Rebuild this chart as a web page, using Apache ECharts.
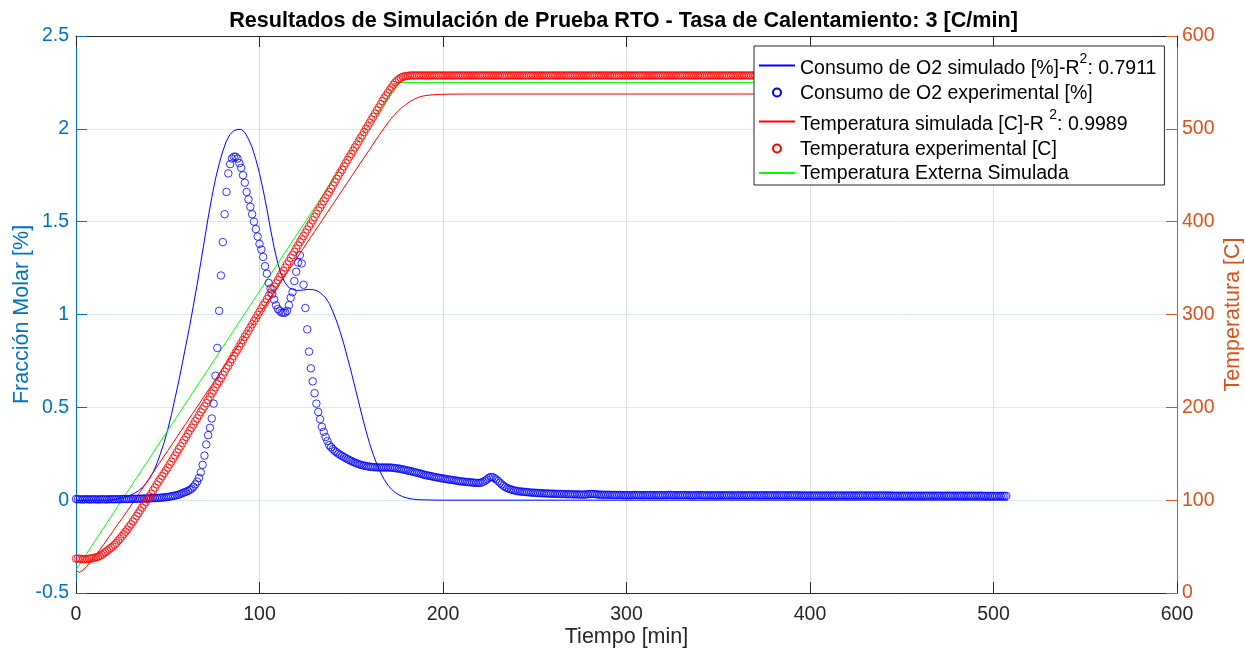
<!DOCTYPE html>
<html><head><meta charset="utf-8">
<script src="https://cdn.jsdelivr.net/npm/echarts/dist/echarts.min.js"></script>
<style>html,body{margin:0;padding:0;background:#fff}#c{width:1245px;height:651px}</style>
</head><body><div id="c"></div>
<script>
const chartTitle = 'Resultados de Simulación de Prueba RTO - Tasa de Calentamiento: 3 [C/min]';
const xName = 'Tiempo [min]';
const leftName = 'Fracción Molar [%]';
const rightName = 'Temperatura [C]';
const xTicks = [0, 100, 200, 300, 400, 500, 600];
const leftTicks = [-0.5, 0, 0.5, 1, 1.5, 2, 2.5];
const rightTicks = [0, 100, 200, 300, 400, 500, 600];
const seriesNames = [
  'Consumo de O2 simulado [%]-R²: 0.7911',
  'Consumo de O2 experimental [%]',
  'Temperatura simulada [C]-R ²: 0.9989',
  'Temperatura experimental [C]',
  'Temperatura Externa Simulada'
];

// experimental samples, one per minute starting at t = 0
const expStep = 1;
const expO2 = [
0.006,0.005,0.005,0.004,0.004,0.005,0.005,0.004,0.004,0.005,
0.005,0.004,0.004,0.004,0.005,0.005,0.004,0.004,0.005,0.005,
0.005,0.005,0.005,0.005,0.005,0.006,0.006,0.006,0.006,0.006,
0.007,0.007,0.007,0.007,0.008,0.008,0.008,0.009,0.009,0.009,
0.010,0.010,0.011,0.011,0.012,0.012,0.013,0.014,0.015,0.016,
0.017,0.019,0.021,0.023,0.025,0.027,0.030,0.034,0.038,0.042,
0.045,0.050,0.055,0.062,0.072,0.085,0.100,0.120,0.150,0.190,
0.240,0.300,0.350,0.390,0.440,0.520,0.670,0.820,1.020,1.210,
1.390,1.540,1.660,1.760,1.810,1.840,1.850,1.850,1.840,1.815,
1.790,1.750,1.710,1.660,1.620,1.580,1.540,1.500,1.460,1.420,
1.380,1.350,1.310,1.260,1.220,1.170,1.140,1.110,1.080,1.050,
1.030,1.020,1.010,1.010,1.010,1.020,1.050,1.090,1.120,1.180,
1.230,1.280,1.320,1.275,1.160,1.035,0.920,0.800,0.710,0.640,
0.576,0.520,0.475,0.436,0.395,0.368,0.340,0.318,0.296,0.285,
0.275,0.265,0.258,0.250,0.244,0.238,0.232,0.226,0.221,0.216,
0.211,0.206,0.202,0.198,0.194,0.191,0.188,0.186,0.184,0.182,
0.180,0.179,0.178,0.177,0.177,0.176,0.176,0.176,0.176,0.176,
0.176,0.176,0.175,0.174,0.172,0.171,0.170,0.168,0.166,0.164,
0.161,0.159,0.157,0.155,0.152,0.150,0.147,0.145,0.142,0.139,
0.136,0.134,0.132,0.130,0.128,0.126,0.124,0.122,0.120,0.118,
0.117,0.115,0.113,0.112,0.110,0.109,0.107,0.106,0.104,0.102,
0.101,0.100,0.099,0.098,0.097,0.096,0.095,0.094,0.093,0.093,
0.093,0.095,0.099,0.105,0.112,0.120,0.125,0.124,0.119,0.112,
0.103,0.094,0.085,0.077,0.070,0.065,0.061,0.058,0.055,0.052,
0.050,0.048,0.047,0.046,0.045,0.044,0.043,0.042,0.041,0.040,
0.040,0.039,0.038,0.038,0.037,0.037,0.036,0.036,0.035,0.035,
0.035,0.034,0.034,0.034,0.033,0.033,0.033,0.032,0.032,0.032,
0.032,0.031,0.031,0.031,0.031,0.030,0.030,0.030,0.031,0.032,
0.033,0.033,0.033,0.032,0.031,0.030,0.030,0.029,0.029,0.029,
0.029,0.029,0.028,0.028,0.028,0.028,0.028,0.028,0.027,0.027,
0.027,0.027,0.027,0.027,0.028,0.028,0.027,0.027,0.027,0.027,
0.027,0.027,0.027,0.027,0.027,0.027,0.027,0.027,0.027,0.027,
0.027,0.027,0.027,0.028,0.028,0.027,0.027,0.027,0.027,0.027,
0.027,0.027,0.027,0.027,0.027,0.026,0.026,0.026,0.027,0.027,
0.027,0.027,0.026,0.026,0.026,0.026,0.026,0.026,0.026,0.026,
0.026,0.026,0.026,0.026,0.026,0.026,0.026,0.026,0.026,0.026,
0.026,0.026,0.026,0.026,0.026,0.026,0.026,0.026,0.026,0.026,
0.026,0.026,0.026,0.026,0.026,0.026,0.026,0.026,0.026,0.026,
0.026,0.026,0.026,0.026,0.026,0.026,0.026,0.026,0.026,0.026,
0.026,0.026,0.026,0.026,0.026,0.025,0.025,0.025,0.025,0.025,
0.025,0.025,0.025,0.025,0.025,0.025,0.025,0.025,0.025,0.025,
0.025,0.025,0.025,0.025,0.025,0.025,0.025,0.025,0.025,0.025,
0.025,0.025,0.025,0.025,0.025,0.025,0.025,0.025,0.025,0.025,
0.025,0.025,0.025,0.025,0.025,0.025,0.025,0.025,0.025,0.025,
0.025,0.025,0.025,0.025,0.025,0.024,0.024,0.024,0.024,0.024,
0.024,0.024,0.024,0.024,0.024,0.024,0.024,0.024,0.024,0.024,
0.024,0.024,0.024,0.024,0.024,0.024,0.024,0.024,0.024,0.024,
0.024,0.024,0.024,0.024,0.024,0.024,0.024,0.024,0.024,0.024,
0.024,0.024,0.024,0.024,0.024,0.024,0.024,0.024,0.024,0.024,
0.024,0.024,0.024,0.024,0.024,0.023,0.023,0.023,0.023,0.023,
0.023,0.023,0.023,0.023,0.023,0.023,0.023,0.023
];
const expT = [
37,37,37,36.5,36.5,36.5,36.5,37,37,37.5,
38,38.5,39,40,41,42.5,44,45.5,47,48.5,
50,52,54,56.5,58.5,61,63.5,66,68.5,71.5,
74,77,80,83,86,89,92,95,98,101,
104,107,110.5,113.5,117,120,123,126,129,132,
135,138.5,141.5,145,148,151.5,155,158,161.5,165,
168,171.5,175,178,181.5,185,188,191.5,195,198,
201,204.5,208,211.5,215,218,221.5,225,228,231.5,
235,238.5,242,245,248.5,252,255.5,259,262,265.5,
269,272.5,276,279,282.5,286,289.5,293,296,299.5,
303,306.5,310,313,316.5,320,323.5,327,330,333.5,
337,340.5,344,347,350.5,354,357.5,361,364,367.5,
371,374.5,378,381,384.5,388,391.5,395,398,401.5,
405,408.5,412,415,418.5,422,425.5,429,432,435.5,
439,442.5,446,449.5,453,456,459.5,463,466.5,470,
473,476.5,480,483,486.5,490,493,496.5,500,503,
506.5,510,513,516.5,520,523,526.5,530,533,536,
539,542,544.5,547.5,550,552,553.5,555,556,556.5,
557,557,557.5,557.5,557.5,557.5,557.5,557.5,557.5,557.5,
557.5,557.5,557.5,557.5,557.5,557.5,557.5,557.5,557.5,557.5,
557.5,557.5,557.5,557.5,557.5,557.5,557.5,557.5,557.5,557.5,
557.5,557.5,557.5,557.5,557.5,557.5,557.5,557.5,557.5,557.5,
557.5,557.5,557.5,557.5,557.5,557.5,557.5,557.5,557.5,557.5,
557.5,557.5,557.5,557.5,557.5,557.5,557.5,557.5,557.5,557.5,
557.5,557.5,557.5,557.5,557.5,557.5,557.5,557.5,557.5,557.5,
557.5,557.5,557.5,557.5,557.5,557.5,557.5,557.5,557.5,557.5,
557.5,557.5,557.5,557.5,557.5,557.5,557.5,557.5,557.5,557.5,
557.5,557.5,557.5,557.5,557.5,557.5,557.5,557.5,557.5,557.5,
557.5,557.5,557.5,557.5,557.5,557.5,557.5,557.5,557.5,557.5,
557.5,557.5,557.5,557.5,557.5,557.5,557.5,557.5,557.5,557.5,
557.5,557.5,557.5,557.5,557.5,557.5,557.5,557.5,557.5,557.5,
557.5,557.5,557.5,557.5,557.5,557.5,557.5,557.5,557.5,557.5,
557.5,557.5,557.5,557.5,557.5,557.5,557.5,557.5,557.5,557.5,
557.5,557.5,557.5,557.5,557.5,557.5,557.5,557.5,557.5,557.5,
557.5,557.5,557.5,557.5,557.5,557.5,557.5,557.5,557.5,557.5,
557.5,557.5,557.5,557.5,557.5,557.5,557.5,557.5,557.5,557.5,
557.5,557.5,557.5,557.5,557.5,557.5,557.5,557.5,557.5,557.5,
557.5,557.5,557.5,557.5,557.5,557.5,557.5,557.5,557.5,557.5,
557.5,557.5,557.5,557.5,557.5,557.5,557.5,557.5,557.5,557.5,
557.5,557.5,557.5,557.5,557.5,557.5,557.5,557.5,557.5,557.5,
557.5,557.5,557.5,557.5,557.5,557.5,557.5,557.5,557.5,557.5,
557.5,557.5,557.5,557.5,557.5,557.5,557.5,557.5,557.5,557.5,
557.5,557.5,557.5,557.5,557.5,557.5,557.5,557.5,557.5,557.5,
557.5,557.5,557.5,557.5,557.5,557.5,557.5,557.5,557.5,557.5,
557.5,557.5,557.5,557.5,557.5,557.5,557.5,557.5,557.5,557.5,
557.5,557.5,557.5,557.5,557.5,557.5,557.5,557.5,557.5,557.5,
557.5,557.5,557.5,557.5,557.5,557.5,557.5,557.5,557.5,557.5,
557.5,557.5,557.5,557.5,557.5,557.5,557.5,557.5,557.5,557.5,
557.5,557.5,557.5,557.5,557.5,557.5,557.5,557.5,557.5,557.5,
557.5,557.5,557.5,557.5,557.5,557.5,557.5,557.5,557.5,557.5,
557.5,557.5,557.5,557.5,557.5,557.5,557.5,557.5
];

// simulated O2 consumption
const simO2Time = [0,16,18,20,22,24,26,28,30,32,34,36,38,40,42,44,46,48,50,52,54,56,58,60,62,64,66,68,70,72,74,76,78,80,82,84,86,88,89,90,92,94,96,98,100,102,104,106,108,110,112,114,116,118,120,122,124,126,128,130,132,134,136,138,140,142,144,146,148,150,152,154,156,158,160,162,164,166,168,170,172,174,176,178,180,182,184,186,188,192,200,508];
const simO2 = [0,0,0.001,0.002,0.005,0.009,0.014,0.02,0.028,0.038,0.05,0.067,0.088,0.115,0.15,0.195,0.25,0.31,0.38,0.46,0.55,0.64,0.74,0.84,0.94,1.05,1.16,1.28,1.40,1.52,1.63,1.73,1.81,1.88,1.935,1.97,1.99,1.997,2.0,1.997,1.98,1.945,1.9,1.835,1.76,1.67,1.57,1.46,1.36,1.275,1.21,1.17,1.145,1.135,1.13,1.13,1.132,1.135,1.135,1.132,1.125,1.11,1.09,1.06,1.015,0.965,0.905,0.84,0.765,0.69,0.61,0.53,0.45,0.375,0.305,0.245,0.193,0.148,0.11,0.081,0.058,0.041,0.028,0.019,0.013,0.008,0.005,0.003,0.002,0.001,0,0];

// simulated temperature
const simTTime = [0,1,2,4,6,8,10,12,15,18,20,22,25,30,35,40,45,50,60,70,80,90,100,110,120,130,140,150,160,165,170,172,174,176,178,180,182,184,186,188,190,194,198,205,220,508];
const simT = [24,22,22.3,25,29,33.5,38.5,44,52,60.5,66,72,80,94.3,109,123.8,138.6,153.3,182.8,212.3,241.8,271.3,300.8,330.3,359.8,389.3,418.8,448.3,477.8,492.6,506.5,511.5,516,520,523.5,526.5,529.5,531.5,533.5,534.8,535.7,536.6,537.1,537.4,537.5,537.5];

// simulated external temperature
const extTime = [0, 175, 508];
const extT = [25, 550, 550];

const FONT = "'Liberation Sans', Arial, Helvetica, sans-serif";
const BLUE_AX = '#0072BD', ORANGE_AX = '#D95319', DARK = '#262626';
const NONE = 'rgba(0,0,0,0)';
const pairs = (xs, ys) => ys.map((y, i) => [xs[i], y]);
const sampled = (ys) => ys.map((y, i) => [i * expStep, y]);

const chart = echarts.init(document.getElementById('c'), null, {renderer: 'canvas'});
const tickStyle = (c) => ({show: true, inside: true, length: 11, lineStyle: {color: c, width: 1}});
const lineAx = (c) => ({show: true, onZero: false, lineStyle: {color: c, width: 1}});
const option = {
  animation: false,
  backgroundColor: '#fff',
  textStyle: {fontFamily: FONT},
  title: {
    text: chartTitle, left: 618.5, textAlign: 'center', top: 5,
    textStyle: {fontFamily: FONT, fontWeight: 'bold', fontSize: 21.6, color: '#000'}
  },
  grid: {left: 76, right: 68, top: 36, bottom: 58, containLabel: false, outerBoundsMode: 'none'},
  xAxis: [{
    type: 'value', position: 'bottom',
    min: xTicks[0], max: xTicks[xTicks.length - 1], interval: xTicks[1] - xTicks[0],
    name: xName, nameLocation: 'middle', nameGap: 33.5, nameMoveOverlap: false,
    nameTextStyle: {fontFamily: FONT, fontSize: 21.5, color: DARK},
    axisLine: lineAx(DARK),
    axisTick: tickStyle(DARK),
    axisLabel: {fontFamily: FONT, fontSize: 19.5, color: DARK, margin: 12},
    splitLine: {show: true, lineStyle: {color: '#DFDFDF', width: 1}}
  }, {
    type: 'value', position: 'top',
    min: xTicks[0], max: xTicks[xTicks.length - 1], interval: xTicks[1] - xTicks[0],
    axisLine: lineAx(DARK),
    axisTick: tickStyle(DARK),
    axisLabel: {show: false}, splitLine: {show: false}
  }],
  yAxis: [{
    type: 'value', position: 'left',
    min: leftTicks[0], max: leftTicks[leftTicks.length - 1], interval: leftTicks[1] - leftTicks[0],
    name: leftName, nameLocation: 'middle', nameGap: 43, nameRotate: 90, nameMoveOverlap: false,
    nameTextStyle: {fontFamily: FONT, fontSize: 21.5, color: BLUE_AX},
    axisLine: lineAx(BLUE_AX),
    axisTick: tickStyle(BLUE_AX),
    axisLabel: {fontFamily: FONT, fontSize: 19.5, color: BLUE_AX, margin: 7},
    splitLine: {show: true, lineStyle: {color: '#D9EAF5', width: 1}}
  }, {
    type: 'value', position: 'right',
    min: rightTicks[0], max: rightTicks[rightTicks.length - 1], interval: rightTicks[1] - rightTicks[0],
    name: rightName, nameLocation: 'middle', nameGap: 45, nameRotate: 90, nameMoveOverlap: false,
    nameTextStyle: {fontFamily: FONT, fontSize: 21.5, color: ORANGE_AX},
    axisLine: lineAx(ORANGE_AX),
    axisTick: tickStyle(ORANGE_AX),
    axisLabel: {fontFamily: FONT, fontSize: 19.5, color: ORANGE_AX, margin: 5},
    splitLine: {show: false}
  }],
  legend: {
    orient: 'vertical', left: 754, top: 46, z: 20,
    itemWidth: 36, itemHeight: 8, itemGap: 4.5,
    padding: [6, 8, 1, 4],
    backgroundColor: '#fff', borderColor: DARK, borderWidth: 1, borderRadius: 0,
    selectedMode: false,
    data: seriesNames,
    formatter: (name) => {
      const i = name.indexOf('²');
      if (i < 0) return '{t|' + name + '}';
      return '{t|' + name.slice(0, i) + '}{s|2}{t|' + name.slice(i + 1) + '}';
    },
    textStyle: {
      fontFamily: FONT, fontSize: 19.5, color: '#000',
      rich: {
        t: {fontFamily: FONT, fontSize: 19.5, color: '#000', lineHeight: 22, verticalAlign: 'bottom'},
        s: {fontFamily: FONT, fontSize: 14, color: '#000', lineHeight: 27, verticalAlign: 'top'}
      }
    }
  },
  series: [{
    name: seriesNames[0], type: 'line', xAxisIndex: 0, yAxisIndex: 0,
    data: pairs(simO2Time, simO2), symbol: 'none', showSymbol: false,
    lineStyle: {color: '#0000FF', width: 1}, itemStyle: {color: NONE, borderWidth: 0}, z: 2
  }, {
    name: seriesNames[1], type: 'scatter', xAxisIndex: 0, yAxisIndex: 0,
    data: sampled(expO2), symbol: 'circle', symbolSize: 7.5,
    itemStyle: {color: NONE, borderColor: '#0000FF', borderWidth: 0.8, opacity: 1}, z: 2
  }, {
    name: seriesNames[2], type: 'line', xAxisIndex: 0, yAxisIndex: 1,
    data: pairs(simTTime, simT), symbol: 'none', showSymbol: false,
    lineStyle: {color: '#FF0000', width: 1}, itemStyle: {color: NONE, borderWidth: 0}, z: 2
  }, {
    name: seriesNames[3], type: 'scatter', xAxisIndex: 0, yAxisIndex: 1,
    data: sampled(expT), symbol: 'circle', symbolSize: 7.5,
    itemStyle: {color: NONE, borderColor: '#FF0000', borderWidth: 0.8, opacity: 1}, z: 2
  }, {
    name: seriesNames[4], type: 'line', xAxisIndex: 0, yAxisIndex: 1,
    data: pairs(extTime, extT), symbol: 'none', showSymbol: false,
    lineStyle: {color: '#00FF00', width: 1}, itemStyle: {color: NONE, borderWidth: 0}, z: 2
  }]
};
chart.setOption(option);
</script>
</body></html>
